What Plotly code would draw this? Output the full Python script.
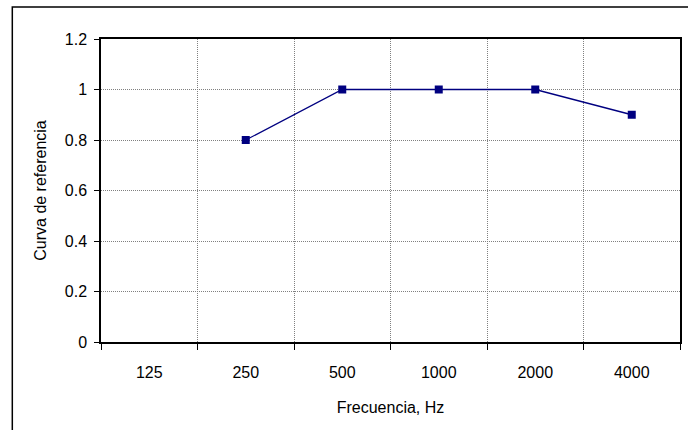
import plotly.graph_objects as go

categories = ["125", "250", "500", "1000", "2000", "4000"]
values = [None, 0.8, 1.0, 1.0, 1.0, 0.9]
y_ticks = [0, 0.2, 0.4, 0.6, 0.8, 1.0, 1.2]
y_tick_labels = ["0", "0.2", "0.4", "0.6", "0.8", "1", "1.2"]

fig = go.Figure()
fig.add_trace(go.Scatter(
    x=categories, y=values, mode="lines+markers",
    line=dict(color="#000080", width=1.3),
    marker=dict(symbol="square", size=8, color="#000080"),
    connectgaps=False, showlegend=False,
))

font = dict(family="Liberation Sans, Arial, sans-serif", size=16, color="#000000")

fig.update_layout(
    width=688, height=430,
    margin=dict(l=101, r=6, t=39, b=88),
    paper_bgcolor="white", plot_bgcolor="white",
    font=font,
    xaxis=dict(
        type="category", categoryorder="array", categoryarray=categories,
        range=[-0.5, 5.5], tickson="boundaries",
        showgrid=True, gridcolor="#808080", griddash="1px,1px", gridwidth=1,
        showline=True, linecolor="#000000", linewidth=1.5, mirror=True,
        ticks="outside", ticklen=6, tickcolor="#000000",
        ticklabelstandoff=15,
        title=dict(text="Frecuencia, Hz", font=font, standoff=22),
        tickfont=font, zeroline=False,
    ),
    yaxis=dict(
        range=[0, 1.2], tickvals=y_ticks, ticktext=y_tick_labels,
        showgrid=True, gridcolor="#808080", griddash="1px,1px", gridwidth=1,
        showline=True, linecolor="#000000", linewidth=1.5, mirror=True,
        ticks="outside", ticklen=5, tickcolor="#000000",
        ticklabelstandoff=4,
        title=dict(text="Curva de referencia", font=font, standoff=14),
        tickfont=font, zeroline=False,
    ),
    shapes=[dict(
        type="rect", xref="paper", yref="paper",
        x0=(12 - 101) / 581, x1=(700 - 101) / 581,
        y0=(342 - 440) / 303, y1=(342 - 7) / 303,
        line=dict(color="#000000", width=1.5), fillcolor="rgba(0,0,0,0)",
        layer="below",
    )],
)

fig.write_html("out.html", config={"displayModeBar": False},
               post_script="document.body.style.margin='0';")
